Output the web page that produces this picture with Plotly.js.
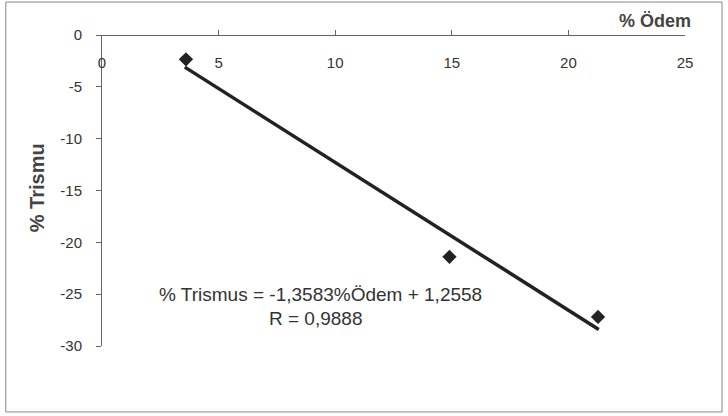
<!DOCTYPE html>
<html><head><meta charset="utf-8">
<script src="https://cdn.plot.ly/plotly-3.0.1.min.js"></script>
<style>html,body{margin:0;padding:0;background:#fff}#c{width:728px;height:416px}</style>
</head><body><div id="c"></div>
<script>
// Data points (% Ödem vs % Trismus)
var odem = [3.6, 14.9, 21.27];
var trismus = [-2.35, -21.4, -27.2];
// Trend line endpoints as drawn in the figure
var trendX = [3.55, 21.3];
var trendY = [-3.1, -28.4];
var xTicks = [0, 5, 10, 15, 20, 25];
var yTicks = [0, -5, -10, -15, -20, -25, -30];
var equationText = "% Trismus = -1,3583%Ödem + 1,2558";
var rText = "R = 0,9888";
var xTitle = "% Ödem";
var yTitle = "% Trismu";

var FONT = "Liberation Sans, Arial, sans-serif";
var traces = [
  {x: trendX, y: trendY, mode: 'lines', line: {color: '#222', width: 3.5}, hoverinfo: 'skip'},
  {x: odem, y: trismus, mode: 'markers', marker: {symbol: 'diamond', size: 11, color: '#222'}}
];
var layout = {
  width: 728, height: 416,
  margin: {l: 102, r: 43, t: 35, b: 70},
  showlegend: false,
  paper_bgcolor: '#fff', plot_bgcolor: '#fff',
  font: {family: FONT, color: '#333', size: 15},
  xaxis: {
    range: [0, 25], tickvals: xTicks, ticktext: xTicks.map(String),
    anchor: 'free', position: 1, side: 'bottom',
    ticks: 'inside', ticklen: 5, tickcolor: '#666', tickwidth: 1,
    showline: true, linecolor: '#666', linewidth: 1,
    showgrid: false, zeroline: false,
    ticklabelstandoff: 14,
    tickfont: {size: 15, color: '#333'}
  },
  yaxis: {
    range: [-30, 0], tickvals: yTicks, ticktext: yTicks.map(String),
    ticks: 'outside', ticklen: 5, tickcolor: '#666', tickwidth: 1,
    showline: true, linecolor: '#666', linewidth: 1,
    showgrid: false, zeroline: false,
    ticklabelstandoff: 11,
    tickfont: {size: 15, color: '#333'}
  },
  annotations: [
    {xref: 'paper', yref: 'paper', x: 1.0137, y: 1.045, xanchor: 'right', yanchor: 'middle',
     text: '<b>' + xTitle + '</b>', showarrow: false, font: {size: 18, color: '#444'}},
    {xref: 'paper', yref: 'paper', x: -0.11, y: 0.51, xanchor: 'center', yanchor: 'middle',
     text: '<b>' + yTitle + '</b>', textangle: -90, showarrow: false, font: {size: 20, color: '#444'}},
    {xref: 'paper', yref: 'paper', x: 0.374, y: 0.167, xanchor: 'center', yanchor: 'middle',
     text: equationText, showarrow: false, font: {size: 19, color: '#333'}},
    {xref: 'paper', yref: 'paper', x: 0.367, y: 0.09, xanchor: 'center', yanchor: 'middle',
     text: rText, showarrow: false, font: {size: 19, color: '#333'}}
  ],
  shapes: [
    {type: 'rect', xref: 'paper', yref: 'paper', x0: -0.165, x1: 1.0635, y0: -0.212, y1: 1.106,
     line: {color: '#888', width: 1}, fillcolor: 'rgba(0,0,0,0)', layer: 'below'}
  ]
};
Plotly.newPlot('c', traces, layout, {displayModeBar: false, staticPlot: true});
</script>
</body></html>
